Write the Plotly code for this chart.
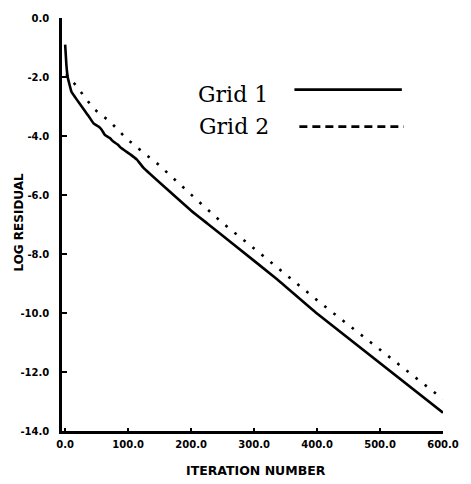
import plotly.graph_objects as go

# ---- data ----
grid1_iter = [0, 2, 4, 10, 15, 22.6, 30, 37.7, 45, 53, 58, 63, 71, 76, 83.5, 89, 96.5,
              104, 114, 124.5, 200.7, 226.7, 266.6, 335.5, 399.9, 600]
grid1_res = [-0.9, -1.6, -2.0, -2.5, -2.66, -2.89, -3.11, -3.34, -3.57, -3.68, -3.79, -3.96,
             -4.07, -4.18, -4.29, -4.41, -4.52, -4.63, -4.80, -5.08, -6.54, -6.98, -7.66,
             -8.84, -10.02, -13.38]

grid2_iter = [2, 6, 15, 45, 71, 97, 121.7, 147.7, 205.9, 250, 300.5, 359, 404.9, 600]
grid2_res = [-1.9, -2.05, -2.23, -3.07, -3.51, -4.08, -4.52, -4.96, -6.10, -6.95, -7.82,
             -8.84, -9.65, -12.92]

x_ticks = [0, 100, 200, 300, 400, 500, 600]
x_labels = ["0.0", "100.0", "200.0", "300.0", "400.0", "500.0", "600.0"]
y_ticks = [0, -2, -4, -6, -8, -10, -12, -14]
y_labels = ["0.0", "-2.0", "-4.0", "-6.0", "-8.0", "-10.0", "-12.0", "-14.0"]

series_names = ["Grid 1", "Grid 2"]

fig = go.Figure()
fig.add_trace(go.Scatter(x=grid1_iter, y=grid1_res, mode="lines",
                         line=dict(color="black", width=2.6, shape="spline", smoothing=0.3),
                         showlegend=False))
fig.add_trace(go.Scatter(x=grid2_iter, y=grid2_res, mode="lines",
                         line=dict(color="black", width=2.6, dash="2.6px,9px"),
                         showlegend=False))

tickfont = dict(family="DejaVu Sans", size=10, color="black", weight="bold")

fig.update_layout(
    width=471, height=484,
    margin=dict(l=62, r=19, t=16, b=53),
    paper_bgcolor="white", plot_bgcolor="white",
    xaxis=dict(range=[-5, 600], tickvals=x_ticks, ticktext=x_labels,
               showline=True, linecolor="black", linewidth=2.5,
               ticks="inside", ticklen=3, tickwidth=1.5, tickcolor="black",
               showgrid=False, zeroline=False, tickfont=tickfont,
               ticklabelstandoff=2),
    yaxis=dict(range=[-14, 0], tickvals=y_ticks, ticktext=y_labels,
               showline=True, linecolor="black", linewidth=2.5,
               ticks="inside", ticklen=5, tickwidth=2, tickcolor="black",
               showgrid=False, zeroline=False, tickfont=tickfont,
               ticklabelstandoff=8),
    showlegend=False,
)

title_font = dict(family="DejaVu Sans", size=12.5, color="black", weight="bold")
fig.add_annotation(text="LOG RESIDUAL", xref="paper", yref="paper", x=-0.114, y=0.506,
                   xanchor="center", yanchor="middle", textangle=-90, showarrow=False,
                   font=dict(family="DejaVu Sans", size=12, color="black", weight="bold"))
fig.add_annotation(text="ITERATION NUMBER", xref="paper", yref="paper", x=0.508, y=-0.0964,
                   xanchor="center", yanchor="middle", showarrow=False, font=title_font)

# legend drawn manually (texts + sample lines)
leg_font = dict(family="DejaVu Serif", size=22, color="black")
fig.add_annotation(text=series_names[0], xref="paper", yref="paper", x=0.449, y=0.8145,
                   xanchor="center", yanchor="middle", showarrow=False, font=leg_font)
fig.add_annotation(text=series_names[1], xref="paper", yref="paper", x=0.451, y=0.737,
                   xanchor="center", yanchor="middle", showarrow=False, font=leg_font)
fig.add_shape(type="line", xref="paper", yref="paper", x0=0.610, x1=0.892, y0=0.8265, y1=0.8265,
              line=dict(color="black", width=2.6))
fig.add_shape(type="line", xref="paper", yref="paper", x0=0.623, x1=0.897, y0=0.737, y1=0.737,
              line=dict(color="black", width=2.6, dash="8px,5px"))

fig.write_html("out.html")
